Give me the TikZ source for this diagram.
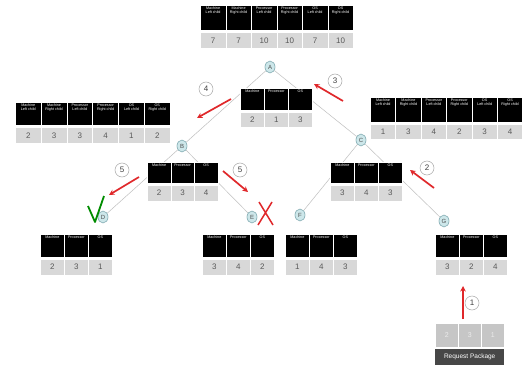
\documentclass[tikz,border=0pt]{standalone}
\usepackage{fontspec}
\setmainfont{Liberation Sans}
\usetikzlibrary{arrows.meta,shapes.geometric}
\definecolor{nodefill}{HTML}{CDE7EA}
\definecolor{nodeline}{HTML}{7FA9B0}
\definecolor{valgray}{HTML}{D8D8D8}
\definecolor{arrowred}{HTML}{E0282B}
\tikzset{
  hdrcell/.style={fill=black, draw=white, line width=0.7pt, anchor=north west, inner sep=0pt},
  valcell/.style={fill=valgray, draw=white, line width=0.7pt, anchor=north west, inner sep=0pt,
    font=\fontsize{8}{8}\selectfont, text=black!65},
  hdrtext/.style={text=white, font=\fontsize{3.7}{4.2}\selectfont, align=center, anchor=north, inner sep=1.5pt},
  treenode/.style={ellipse, fill=nodefill, draw=nodeline, line width=0.6pt, minimum width=10pt,
    minimum height=12pt, inner sep=0pt, font=\fontsize{6}{6}\selectfont, text=black!70},
  numcirc/.style={circle, draw=gray!70, fill=white, line width=0.5pt, minimum size=14pt, inner sep=0pt,
    font=\fontsize{8}{8}\selectfont, text=black!75},
  redarrow/.style={draw=arrowred, line width=1.7pt, -{Stealth[length=5.5pt,width=5.5pt]}},
  treeedge/.style={draw=gray!50, line width=0.5pt},
  reqcell/.style={fill=gray!45, draw=white, line width=0.7pt, anchor=north west, inner sep=0pt,
    font=\fontsize{7}{7}\selectfont, text=gray!15},
}
% #1 prefix, #2 x, #3 y, #4 col width, #5 header height, #6 value height, #7 gap, #8 list
\newcommand\mktable[8]{%
  \foreach \h/\v [count=\i from 0] in {#8}{
    \node[hdrcell, minimum width=#4pt, minimum height=#5pt] (#1h\i) at ({#2+\i*#4},#3) {};
    \node[hdrtext] (#1t\i) at (#1h\i.north) {\h};
    \node[valcell, minimum width=#4pt, minimum height=#6pt] (#1v\i) at ({#2+\i*#4},{#3+#5+#7}) {\v};
  }}
\begin{document}
\begin{tikzpicture}[x=1pt,y=-1pt]
\useasboundingbox[fill=white] (0,0) rectangle (524,369);

% tree nodes
\node[treenode] (A) at (270,67) {A};
\node[treenode] (B) at (182,146) {B};
\node[treenode] (C) at (361,140) {C};
\node[treenode] (D) at (103,217) {D};
\node[treenode] (E) at (252,217) {E};
\node[treenode] (F) at (300,215) {F};
\node[treenode] (G) at (444,221) {G};

\draw[treeedge] (A) -- (B);
\draw[treeedge] (A) -- (C);
\draw[treeedge] (B) -- (D);
\draw[treeedge] (B) -- (E);
\draw[treeedge] (C) -- (F);
\draw[treeedge] (C) -- (G);

% tables
\mktable{top}{200}{5}{25.5}{25}{16}{2}{{Machine\\Left child}/7,{Machine\\Right child}/7,{Processor\\Left child}/10,{Processor\\Right child}/10,{OS\\Left child}/7,{OS\\Right child}/10}
\mktable{lt}{15}{102}{25.8}{23}{16}{2}{{Machine\\Left child}/2,{Machine\\Right child}/3,{Processor\\Left child}/3,{Processor\\Right child}/4,{OS\\Left child}/1,{OS\\Right child}/2}
\mktable{rt}{370}{97}{25.4}{25}{15}{2}{{Machine\\Left child}/1,{Machine\\Right child}/3,{Processor\\Left child}/4,{Processor\\Right child}/2,{OS\\Left child}/3,{OS\\Right child}/4}
\mktable{ta}{240}{88}{24}{22}{15}{2}{Machine/2,Processor/1,OS/3}
\mktable{tb}{147}{162}{23.5}{21}{16}{1.5}{Machine/2,Processor/3,OS/4}
\mktable{tc}{330}{162}{24}{21}{16}{1.5}{Machine/3,Processor/4,OS/3}
\mktable{td}{40}{234}{24}{23}{16}{1.5}{Machine/2,Processor/3,OS/1}
\mktable{te}{202}{234}{24}{23}{16}{1.5}{Machine/3,Processor/4,OS/2}
\mktable{tf}{285}{234}{24}{23}{16}{1.5}{Machine/1,Processor/4,OS/3}
\mktable{tg}{435}{234}{24}{23}{16}{1.5}{Machine/3,Processor/2,OS/4}

% request package
\foreach \v [count=\i from 0] in {2,3,1}{
  \node[reqcell, minimum width=23pt, minimum height=24pt] (req\i) at ({435+\i*23},323) {\v};
}
\node[fill=black!72, text=white, anchor=north west, minimum width=69pt, minimum height=16pt, inner sep=0pt,
  font=\fontsize{6.5}{6.5}\selectfont] (reqbar) at (435,349) {Request Package};

% numbered circles
\node[numcirc] (n1) at (472,303) {1};
\node[numcirc] (n2) at (427,168) {2};
\node[numcirc] (n3) at (335,81) {3};
\node[numcirc] (n4) at (206,89) {4};
\node[numcirc] (n5a) at (122,170) {5};
\node[numcirc] (n5b) at (240,170) {5};

% red arrows
\coordinate (a1s) at (463,319); \coordinate (a1e) at (463,286);
\coordinate (a2s) at (434,188); \coordinate (a2e) at (410,170);
\coordinate (a3s) at (343,101); \coordinate (a3e) at (314,84);
\coordinate (a4s) at (231,99);  \coordinate (a4e) at (197,118);
\coordinate (a5s) at (139,177); \coordinate (a5e) at (109,195);
\coordinate (a6s) at (223,171); \coordinate (a6e) at (248,192);
\draw[redarrow] (a1s) -- (a1e);
\draw[redarrow] (a2s) -- (a2e);
\draw[redarrow] (a3s) -- (a3e);
\draw[redarrow] (a4s) -- (a4e);
\draw[redarrow] (a5s) -- (a5e);
\draw[redarrow] (a6s) -- (a6e);

% check mark and cross
\coordinate (ck1) at (88,206); \coordinate (ck2) at (95,222); \coordinate (ck3) at (104,196);
\draw[draw=green!55!black, line width=1.8pt, line join=round] (ck1) -- (ck2) -- (ck3);
\coordinate (x1) at (259,202); \coordinate (x2) at (273,225);
\coordinate (x3) at (272,202); \coordinate (x4) at (258,225);
\draw[draw=arrowred, line width=1.5pt] (x1) -- (x2) (x3) -- (x4);
\end{tikzpicture}
\end{document}
